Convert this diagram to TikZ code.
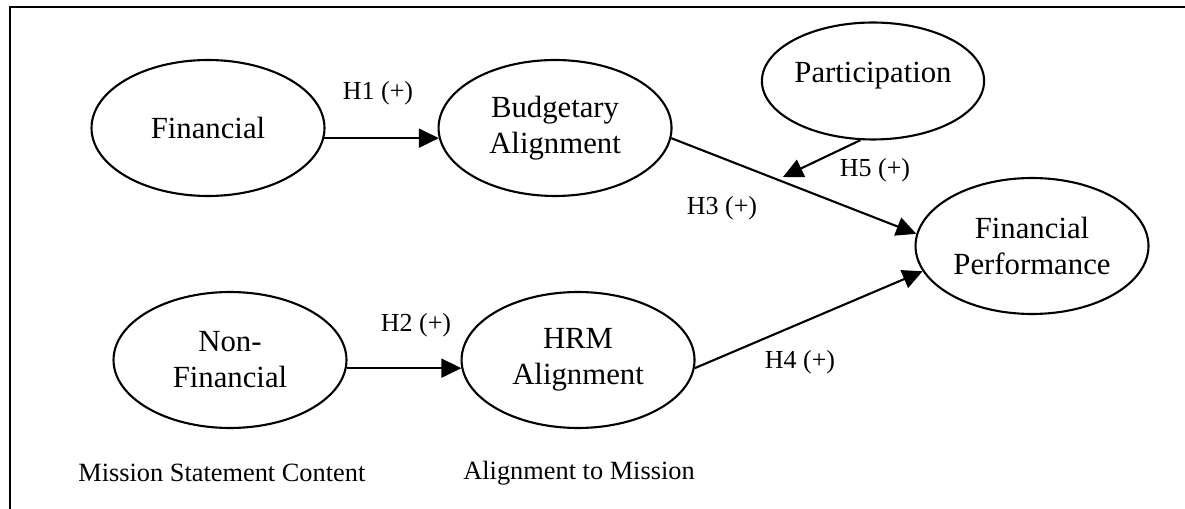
\documentclass[tikz,border=0pt]{standalone}
\usepackage{fontspec}
\setmainfont{Liberation Serif}
\usetikzlibrary{shapes.geometric, positioning, arrows.meta}

\begin{document}
\begin{tikzpicture}[x=0.02cm, y=-0.02cm,
        construct/.style={ellipse, draw, line width=1.2pt, inner sep=0pt,
                          minimum width=4.66cm, minimum height=2.72cm,
                          align=center,
                          font=\fontsize{17.5}{20.5}\selectfont},
        hyp/.style={font=\fontsize{14.8}{17}\selectfont},
        note/.style={font=\fontsize{15}{18}\selectfont, anchor=west,
                     inner sep=0pt},
        link/.style={line width=1.2pt,
                     -{Triangle[length=0.4cm, width=0.38cm]}}]
        \useasboundingbox (0,0) rectangle (1185,509);
        % frame
        \draw[line width=1.3pt] (1185,7) -- (10,7) -- (10,509);

        % constructs
        \node[construct] (fin) at (208,128) {Financial};
        \node[construct,
              right=2.24cm of fin] (bud) {Budgetary\\Alignment};
        \node[construct] (nonfin) at (230,360) {Non-\\Financial};
        \node[construct,
              right=2.26cm of nonfin] (hrm) {HRM\\Alignment};
        \node[construct,
              minimum width=4.38cm,
              minimum height=2.34cm,
              text depth=0.36cm] (part) at (873,81) {Participation};
        \node[construct] (perf) at (1032,246) {Financial\\Performance};

        % hypotheses
        \node[hyp] (h1) at (378,93) {H1 (+)};
        \node[hyp] (h2) at (416,325) {H2 (+)};
        \node[hyp] (h3) at (722,208) {H3 (+)};
        \node[hyp] (h4) at (800,362) {H4 (+)};
        \node[hyp] (h5) at (875,170) {H5 (+)};

        \node[note] (content) at (78,473) {Mission Statement Content};
        \node[note] (mission) at (463,473) {Alignment to Mission};

        \coordinate (moderate) at (783,177);

        \draw[link] (fin.-5) -- (bud.185);
        \draw[link] (nonfin.-4) -- (hrm.184);
        \draw[link] (bud.-5) -- (perf.174);
        \draw[link] (hrm.-4) -- (perf.193);
        \draw[link] (part.258) -- (moderate);
\end{tikzpicture}
\end{document}
